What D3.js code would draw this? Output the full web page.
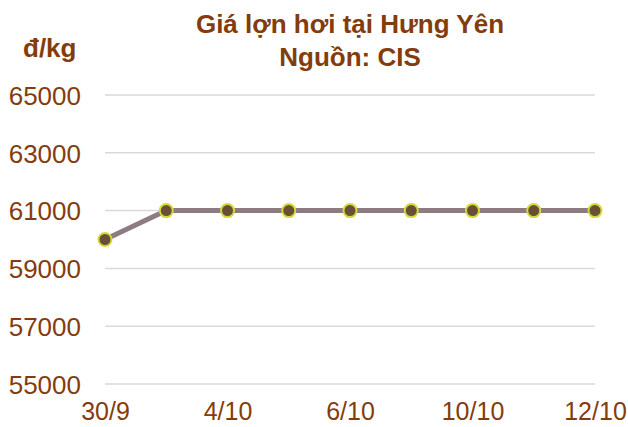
<!DOCTYPE html>
<html>
<head>
<meta charset="utf-8">
<script src="https://cdn.jsdelivr.net/npm/d3@7"></script>
<style>
  body { margin: 0; background: #fff; }
  text { font-family: "Liberation Sans", Arial, sans-serif; }
</style>
</head>
<body>
<svg id="drawing_region"></svg>
<script>
const dates = ["30/9", "3/10", "4/10", "5/10", "6/10", "7/10", "10/10", "11/10", "12/10"];
const prices = [60000, 61000, 61000, 61000, 61000, 61000, 61000, 61000, 61000];
const yTicks = [55000, 57000, 59000, 61000, 63000, 65000];
const xShown = ["30/9", "4/10", "6/10", "10/10", "12/10"];

const config = {
    width: 628,
    height: 427,
    margin: {top: 95, right: 33, bottom: 43, left: 105}
};
const brown = "#843c0c";

const svg = d3.select('#drawing_region')
    .attr('width', config.width)
    .attr('height', config.height);

const inner_width = config.width - config.margin.left - config.margin.right;
const inner_height = config.height - config.margin.top - config.margin.bottom;

const chart = svg.append('g')
    .attr('transform', `translate(${config.margin.left}, ${config.margin.top})`);

const xscale = d3.scalePoint()
    .domain(dates)
    .range([0, inner_width]);

const yscale = d3.scaleLinear()
    .domain([55000, 65000])
    .range([inner_height, 0]);

// gridlines
chart.append('g')
    .selectAll('line')
    .data(yTicks)
    .join('line')
    .attr('x1', 0)
    .attr('x2', inner_width)
    .attr('y1', d => yscale(d))
    .attr('y2', d => yscale(d))
    .attr('stroke', '#d9d9d9')
    .attr('stroke-width', 1.5);

// y axis labels
const yaxis = d3.axisLeft(yscale).tickValues(yTicks).tickSize(0).tickPadding(24).tickFormat(d3.format('d'));
const yg = chart.append('g').call(yaxis);
yg.select('.domain').remove();
yg.selectAll('text')
    .attr('font-size', '26px')
    .attr('font-family', '"Liberation Sans", Arial, sans-serif')
    .attr('fill', brown)
    .attr('dy', '0.36em');

// x axis labels
const xaxis = d3.axisBottom(xscale).tickValues(xShown).tickSize(0).tickPadding(18);
const xg = chart.append('g')
    .attr('transform', `translate(0, ${inner_height})`)
    .call(xaxis);
xg.select('.domain').remove();
xg.selectAll('text')
    .attr('font-size', '25px')
    .attr('font-family', '"Liberation Sans", Arial, sans-serif')
    .attr('fill', brown);

// line
const line = d3.line()
    .x((d, i) => xscale(dates[i]))
    .y(d => yscale(d));

chart.append('path')
    .datum(prices)
    .attr('d', line)
    .attr('fill', 'none')
    .attr('stroke', '#8c7b80')
    .attr('stroke-width', 5);

chart.selectAll('circle')
    .data(prices)
    .join('circle')
    .attr('cx', (d, i) => xscale(dates[i]))
    .attr('cy', d => yscale(d))
    .attr('r', 6.5)
    .attr('fill', '#6b4f35')
    .attr('stroke', '#cfdb3c')
    .attr('stroke-width', 2);

// titles
svg.append('text')
    .attr('x', 350)
    .attr('y', 33)
    .attr('text-anchor', 'middle')
    .attr('font-size', '26px')
    .attr('font-weight', 'bold')
    .attr('fill', brown)
    .text('Giá lợn hơi tại Hưng Yên');

svg.append('text')
    .attr('x', 350)
    .attr('y', 66)
    .attr('text-anchor', 'middle')
    .attr('font-size', '26px')
    .attr('font-weight', 'bold')
    .attr('fill', brown)
    .text('Nguồn: CIS');

svg.append('text')
    .attr('x', 23)
    .attr('y', 57)
    .attr('font-size', '26px')
    .attr('font-weight', 'bold')
    .attr('fill', brown)
    .text('đ/kg');
</script>
</body>
</html>
